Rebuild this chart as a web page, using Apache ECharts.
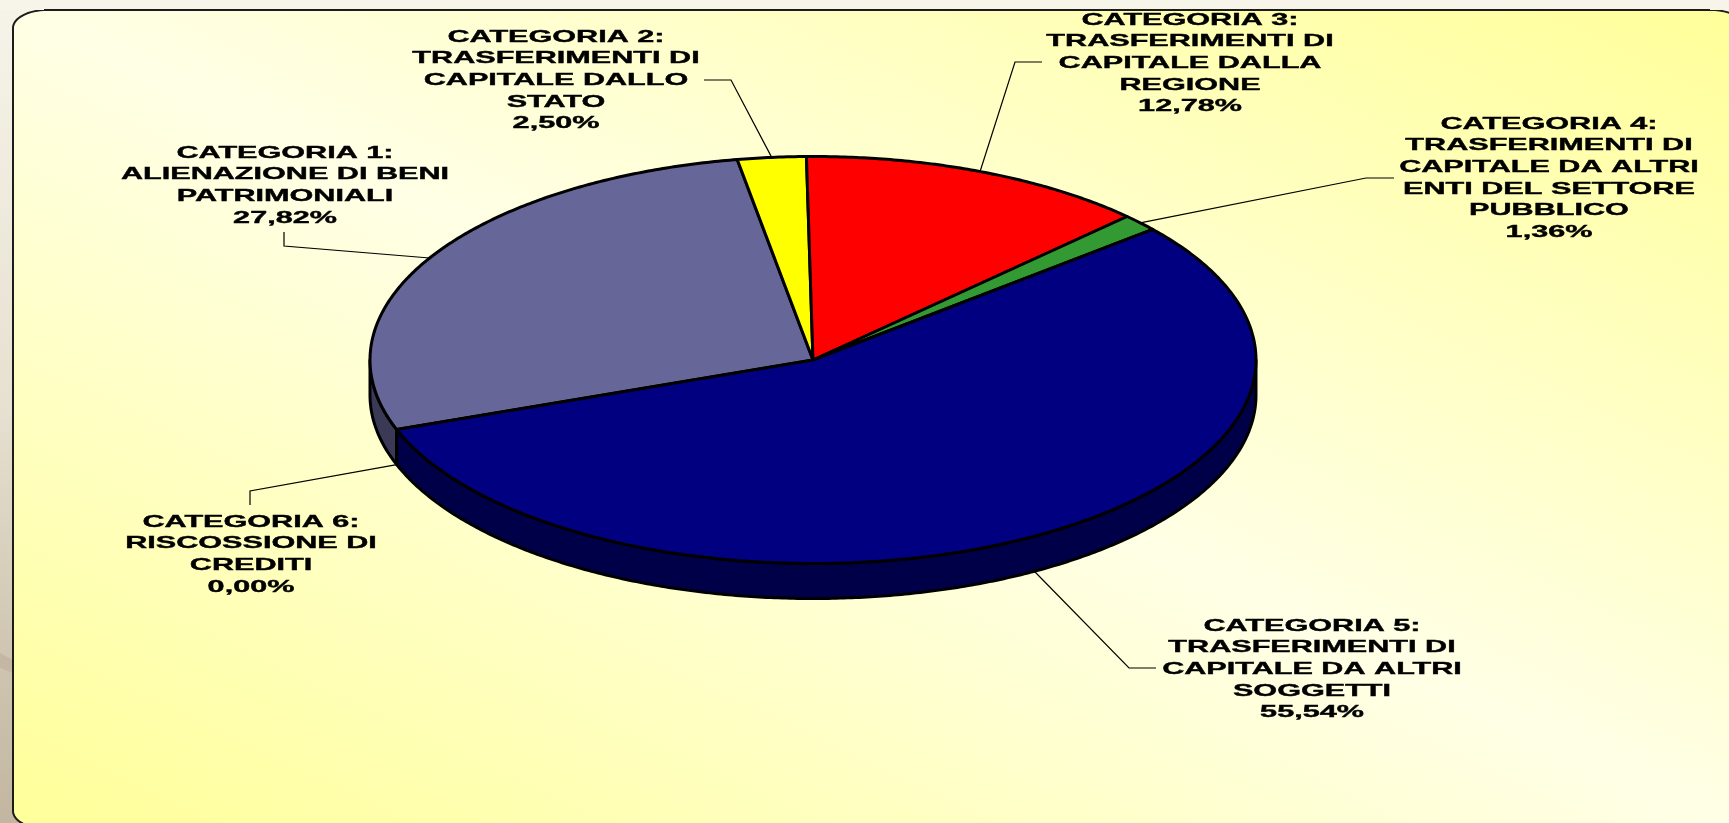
<!DOCTYPE html>
<html lang="it">
<head>
<meta charset="utf-8">
<title>Categorie</title>
<style>
html, body { margin: 0; padding: 0; background: #f4f2e6; }
#main { width: 1729px; height: 823px; }
</style>
</head>
<body>
<div id="main"></div>
<script src="https://cdn.jsdelivr.net/npm/echarts@6/dist/echarts.min.js"></script>
<script>
var categories = [
    'CATEGORIA 1:\nALIENAZIONE DI BENI\nPATRIMONIALI',
    'CATEGORIA 2:\nTRASFERIMENTI DI\nCAPITALE DALLO\nSTATO',
    'CATEGORIA 3:\nTRASFERIMENTI DI\nCAPITALE DALLA\nREGIONE',
    'CATEGORIA 4:\nTRASFERIMENTI DI\nCAPITALE DA ALTRI\nENTI DEL SETTORE\nPUBBLICO',
    'CATEGORIA 5:\nTRASFERIMENTI DI\nCAPITALE DA ALTRI\nSOGGETTI',
    'CATEGORIA 6:\nRISCOSSIONE DI\nCREDITI'
];
var values = [27.82, 2.50, 12.78, 1.36, 55.54, 0.00];
var topColors = ['#666699', '#ffff00', '#ff0000', '#339933', '#000080', '#993366'];
var sideColors = ['#3a3a57', '#8f8f00', '#8f0000', '#1d561d', '#000048', '#561d39'];

// tilted pie, angles clockwise from 12 o'clock
var pie = {cx: 813, cy: 360, rx: 443, ry: 203.5, depth: 35, start: 250};

// label centre / top of first line, then the leader elbow and its free end
var labelLayout = [
    {x: 285, y: 142, elbow: [284, 246], end: [284, 232]},
    {x: 556, y: 26, elbow: [731, 80], end: [704, 80]},
    {x: 1190, y: 9, elbow: [1015, 62], end: [1042, 62]},
    {x: 1549, y: 113, elbow: [1366, 178], end: [1394, 178]},
    {x: 1312, y: 615, elbow: [1129, 668], end: [1156, 668]},
    {x: 251, y: 511, elbow: [250, 491], end: [250, 505]}
];

var total = values.reduce(function (a, b) { return a + b; }, 0);

var rimPoint = function (angle, drop) {
    var rad = angle * Math.PI / 180;
    return [pie.cx + pie.rx * Math.sin(rad), pie.cy - pie.ry * Math.cos(rad) + (drop || 0)];
};

var arcPoints = function (from, to, drop) {
    var points = [];
    var steps = Math.max(2, Math.ceil(Math.abs(to - from) * 2));
    for (var i = 0; i <= steps; i++) {
        points.push(rimPoint(from + (to - from) * i / steps, drop));
    }
    return points;
};

var sliceAngles = function (index) {
    var before = 0;
    for (var i = 0; i < index; i++) {
        before += values[i];
    }
    var from = pie.start + before / total * 360;
    return [from, from + values[index] / total * 360];
};

// part of the slice's rim that faces the viewer, if any
var frontRange = function (from, to) {
    var ranges = [[90, 270], [450, 630]];
    for (var i = 0; i < ranges.length; i++) {
        var a = Math.max(from, ranges[i][0]);
        var b = Math.min(to, ranges[i][1]);
        if (b > a) {
            return [a, b];
        }
    }
    return null;
};

var renderSlice = function (params, api) {
    var index = params.dataIndex;
    var angles = sliceAngles(index);
    var mid = (angles[0] + angles[1]) / 2;
    var children = [];

    if (values[index] > 0) {
        var front = frontRange(angles[0], angles[1]);
        if (front) {
            var wall = arcPoints(front[0], front[1], 0).concat(arcPoints(front[1], front[0], pie.depth));
            children.push({
                type: 'polygon',
                z2: 1,
                shape: {points: wall},
                style: {fill: sideColors[index], stroke: '#000', lineWidth: 3, lineJoin: 'round'}
            });
        }
        children.push({
            type: 'polygon',
            z2: 2,
            shape: {points: [[pie.cx, pie.cy]].concat(arcPoints(angles[0], angles[1], 0))},
            style: {fill: topColors[index], stroke: '#000', lineWidth: 3, lineJoin: 'round'}
        });
    }

    var layout = labelLayout[index];
    var normalized = mid % 360;
    var drop = normalized > 90 && normalized < 270 ? pie.depth : 0;
    children.push({
        type: 'polyline',
        z2: 3,
        shape: {points: [layout.end, layout.elbow, rimPoint(mid, drop)]},
        style: {fill: null, stroke: '#000', lineWidth: 1.2}
    });
    children.push({
        type: 'text',
        z2: 4,
        x: layout.x,
        y: layout.y,
        scaleX: 1.8,
        style: {
            text: categories[index] + '\n' + values[index].toFixed(2).replace('.', ',') + '%',
            align: 'center',
            verticalAlign: 'top',
            font: 'bold 17px "Liberation Sans", Arial, sans-serif',
            lineHeight: 21.7,
            fill: '#000',
            stroke: '#000',
            lineWidth: 0.4
        }
    });
    return {type: 'group', children: children};
};

// frame outline with elliptical corners
var framePoints = function () {
    var left = 13, top = 10, right = 1745, bottom = 829, crx = 34, cry = 18;
    var corners = [
        [right - crx, top + cry, 0],
        [right - crx, bottom - cry, 90],
        [left + crx, bottom - cry, 180],
        [left + crx, top + cry, 270]
    ];
    var points = [];
    corners.forEach(function (c) {
        for (var i = 0; i <= 16; i++) {
            var rad = (c[2] + i * 90 / 16) * Math.PI / 180;
            points.push([c[0] + crx * Math.sin(rad), c[1] - cry * Math.cos(rad)]);
        }
    });
    return points;
};

var chart = echarts.init(document.getElementById('main'));
chart.setOption({
    animation: false,
    backgroundColor: {
        type: 'linear', x: 0, y: 0, x2: 0, y2: 1,
        colorStops: [
            {offset: 0, color: '#f6f4e9'},
            {offset: 0.5, color: '#e6e0d0'},
            {offset: 0.8, color: '#cfc5b1'},
            {offset: 1, color: '#c2b6a0'}
        ]
    },
    graphic: [
        // faint band on the slide background, left of the frame
        {type: 'polygon', z: 0, shape: {points: [[0, 653], [13, 660], [13, 673], [0, 668]]}, style: {fill: '#c4b7a4'}},
        {
            type: 'polygon',
            z: 1,
            shape: {points: framePoints()},
            style: {
                fill: {
                    type: 'linear', global: true, x: 1184, y: -259, x2: 546, y2: 1081,
                    colorStops: [
                        {offset: 0, color: '#ffff99'},
                        {offset: 0.5, color: '#ffffe6'},
                        {offset: 1, color: '#ffff99'}
                    ]
                },
                stroke: '#1c1c1c',
                lineWidth: 2
            }
        },
        // the top label runs under the slide edge
        {type: 'rect', z: 10, shape: {x: 0, y: 0, width: 1729, height: 10}, style: {fill: '#f7f5ea'}},
        {type: 'line', z: 10, shape: {x1: 44, y1: 10, x2: 1710, y2: 10}, style: {stroke: '#1c1c1c', lineWidth: 2}}
    ],
    series: [{
        type: 'custom',
        coordinateSystem: 'none',
        silent: true,
        clip: false,
        z: 5,
        renderItem: renderSlice,
        data: values
    }]
});
</script>
</body>
</html>
